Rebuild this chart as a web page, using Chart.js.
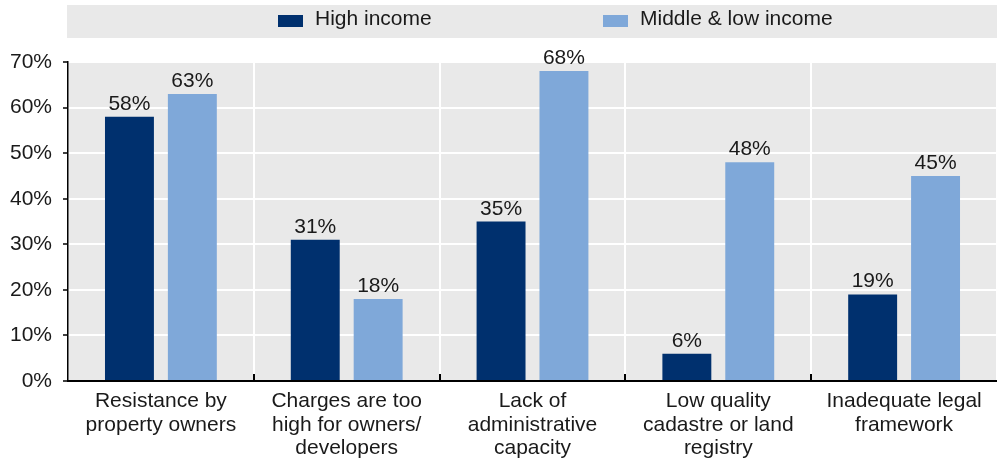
<!DOCTYPE html>
<html>
<head>
<meta charset="utf-8">
<script src="https://cdn.jsdelivr.net/npm/chart.js@4.4.1/dist/chart.umd.min.js"></script>
<style>
  html, body { margin: 0; padding: 0; background: #ffffff; }
  #wrap { width: 997px; height: 460px; position: relative; }
</style>
</head>
<body>
<div id="wrap"><canvas id="chart" width="997" height="460"></canvas></div>
<script>
// Obstacles to land value capture, share of respondents by income group
const categories = [
  ["Resistance by", "property owners"],
  ["Charges are too", "high for owners/", "developers"],
  ["Lack of", "administrative", "capacity"],
  ["Low quality", "cadastre or land", "registry"],
  ["Inadequate legal", "framework"]
];
const seriesNames = ["High income", "Middle & low income"];
const highIncome = [58, 31, 35, 6, 19];
const middleLowIncome = [63, 18, 68, 48, 45];
const yTicks = [0, 10, 20, 30, 40, 50, 60, 70];

const DARK = "#00306e";
const LIGHT = "#7fa8d9";
const PANEL = "#e9e9e9";
const TEXT = "#1a1a1a";
const FONT = "'Liberation Sans', Arial, Helvetica, sans-serif";
const FONT_SIZE = 21;

const decor = {
  id: "decor",
  beforeDraw(chart) {
    const { ctx, chartArea: a } = chart;
    ctx.save();
    ctx.fillStyle = "#ffffff";
    ctx.fillRect(0, 0, chart.width, chart.height);
    // legend band
    ctx.fillStyle = PANEL;
    ctx.fillRect(67, 5, chart.width - 67, 33);
    // plot panel
    ctx.fillRect(a.left, a.top, a.right - a.left, a.bottom - a.top);
    ctx.restore();
  },
  afterDraw(chart) {
    const { ctx, chartArea: a } = chart;
    const xs = chart.scales.x;
    ctx.save();
    // small upward ticks between categories
    ctx.strokeStyle = "#000";
    ctx.lineWidth = 2;
    for (let i = 0; i < categories.length - 1; i++) {
      const bx = Math.round((xs.getPixelForValue(i) + xs.getPixelForValue(i + 1)) / 2);
      ctx.beginPath();
      ctx.moveTo(bx, a.bottom);
      ctx.lineTo(bx, a.bottom - 7);
      ctx.stroke();
    }
    // value labels above bars
    ctx.font = FONT_SIZE + "px " + FONT;
    ctx.fillStyle = TEXT;
    ctx.textAlign = "center";
    ctx.textBaseline = "alphabetic";
    chart.data.datasets.forEach((ds, di) => {
      const meta = chart.getDatasetMeta(di);
      meta.data.forEach((bar, i) => {
        ctx.fillText(ds.data[i] + "%", bar.x, bar.y - 7);
      });
    });
    // legend
    const items = [
      { name: seriesNames[0], color: DARK, x: 278 },
      { name: seriesNames[1], color: LIGHT, x: 603 }
    ];
    ctx.textAlign = "left";
    ctx.textBaseline = "middle";
    items.forEach(it => {
      ctx.fillStyle = it.color;
      ctx.fillRect(it.x, 15, 25, 12);
      ctx.fillStyle = TEXT;
      ctx.fillText(it.name, it.x + 37, 19);
    });
    ctx.restore();
  }
};

new Chart(document.getElementById("chart"), {
  type: "bar",
  data: {
    labels: categories,
    datasets: [
      { label: seriesNames[0], data: highIncome, backgroundColor: DARK },
      { label: seriesNames[1], data: middleLowIncome, backgroundColor: LIGHT }
    ]
  },
  options: {
    responsive: false,
    animation: false,
    devicePixelRatio: 1,
    layout: { padding: { top: 62, right: 0, bottom: 0, left: 0 } },
    datasets: { bar: { categoryPercentage: 0.677, barPercentage: 0.778 } },
    plugins: { legend: { display: false }, tooltip: { enabled: false } },
    scales: {
      x: {
        offset: true,
        afterFit: s => { s.height = 79; },
        grid: {
          offset: true,
          color: ctx => (ctx.index === 0 ? "rgba(0,0,0,0)" : "#ffffff"),
          lineWidth: 2,
          drawTicks: false
        },
        border: { display: true, color: "#000", width: 2 },
        ticks: {
          color: TEXT,
          font: { family: FONT, size: FONT_SIZE, lineHeight: 1.11 },
          padding: 9,
          maxRotation: 0,
          autoSkip: false
        }
      },
      y: {
        min: 0,
        max: 70,
        afterFit: s => { s.width = 68; },
        afterBuildTicks: s => { s.ticks = yTicks.map(v => ({ value: v })); },
        grid: {
          color: ctx => (ctx.tick && ctx.tick.value === 0 ? "rgba(0,0,0,0)" : "#ffffff"),
          lineWidth: 2,
          tickColor: "#000",
          tickLength: 5,
          tickWidth: 1.5
        },
        border: { display: true, color: "#000", width: 1.5 },
        ticks: {
          color: TEXT,
          font: { family: FONT, size: FONT_SIZE },
          padding: 11,
          callback: v => v + "%"
        }
      }
    }
  },
  plugins: [decor]
});
</script>
</body>
</html>
